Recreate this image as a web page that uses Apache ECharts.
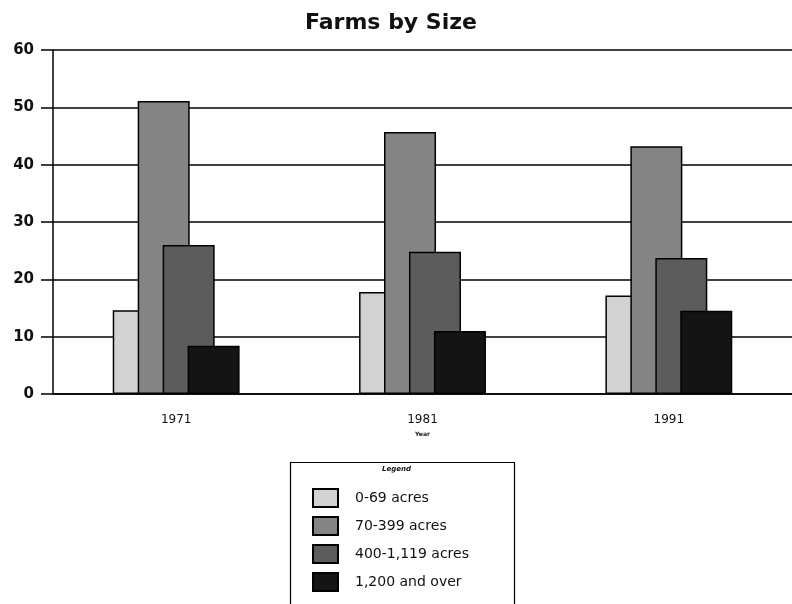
<!DOCTYPE html>
<html><head><meta charset="utf-8">
<script src="https://cdn.jsdelivr.net/npm/echarts@6/dist/echarts.min.js"></script>
<style>html,body{margin:0;padding:0;background:#fff}#c{width:792px;height:604px}</style>
</head><body><div id="c"></div>
<script>
const years = ['1971', '1981', '1991'];
const seriesNames = ['0-69 acres', '70-399 acres', '400-1,119 acres', '1,200 and over'];
const small = [14.6, 17.8, 17.2];
const medium = [51.1, 45.7, 43.2];
const large = [26.0, 24.8, 23.7];
const xlarge = [8.4, 11.0, 14.5];
const yTicks = [0, 10, 20, 30, 40, 50, 60];

const values = [small, medium, large, xlarge];
const colors = ['#d2d2d2', '#848484', '#5c5c5c', '#141414'];
const font = '"DejaVu Sans", "Liberation Sans", Arial, sans-serif';

const chart = echarts.init(document.getElementById('c'), null, {renderer: 'canvas'});
chart.setOption({
  animation: false,
  backgroundColor: '#fff',
  title: {
    text: 'Farms by Size', left: 386, textAlign: 'center', top: 7,
    textStyle: {fontFamily: font, fontSize: 22, fontWeight: 'bold', color: '#111'}
  },
  grid: {left: 53, top: 50, width: 750, height: 344, containLabel: false},
  xAxis: {
    type: 'category', data: years,
    name: 'Year', nameLocation: 'middle', nameGap: 37,
    nameTextStyle: {fontFamily: font, fontSize: 6, fontWeight: 'bold', color: '#111'},
    axisLine: {lineStyle: {color: '#000', width: 1.5}},
    axisTick: {alignWithLabel: true, length: 9, lineStyle: {color: '#000', width: 1.5}},
    axisLabel: {fontFamily: font, fontSize: 12, color: '#111', margin: 20}
  },
  yAxis: {
    type: 'value', min: yTicks[0], max: yTicks[yTicks.length - 1], interval: 10,
    axisLine: {show: true, lineStyle: {color: '#000', width: 1.5}},
    axisTick: {show: true, length: 12, lineStyle: {color: '#000', width: 1.5}},
    axisLabel: {fontFamily: font, fontSize: 15, fontWeight: 'bold', color: '#111', margin: 19},
    splitLine: {lineStyle: {color: '#000', width: 1.5}}
  },
  legend: {
    orient: 'vertical', left: 312, top: 488, padding: 0,
    icon: 'rect',
    itemWidth: 25, itemHeight: 18, itemGap: 8,
    textStyle: {fontFamily: font, fontSize: 14, color: '#111', padding: [0, 0, 0, 12]},
    data: seriesNames
  },
  graphic: [
    {type: 'rect', left: 288, top: 460, shape: {width: 224, height: 160},
      style: {fill: 'none', stroke: '#000', lineWidth: 1.2}, silent: true},
    {type: 'text', left: 382, top: 466,
      style: {text: 'Legend', font: 'italic bold 7px ' + font, fill: '#111'}}
  ],
  series: seriesNames.map((n, i) => ({
    name: n, type: 'bar', data: values[i],
    barWidth: 52, barGap: '-52%',
    itemStyle: {color: colors[i], borderColor: '#000', borderWidth: 1.5}
  }))
});
</script></body></html>
